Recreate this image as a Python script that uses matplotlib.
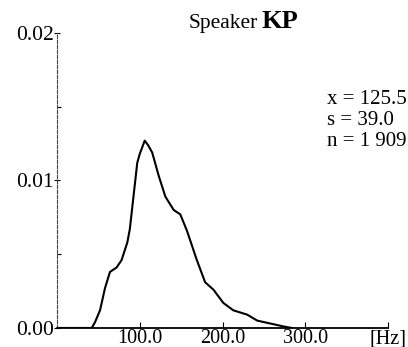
import matplotlib
matplotlib.use("Agg")
import matplotlib.pyplot as plt
from matplotlib.ticker import MultipleLocator

# pitch distribution
hz = [0, 20, 42, 46, 52, 58, 64, 72, 78, 85, 88, 91, 97, 100, 106, 110, 115,
      123, 131, 141, 149, 157, 163, 169, 179, 189, 201, 213, 230, 242, 258,
      274, 284]
density = [0, 0, 0, 0.0004, 0.0012, 0.0027, 0.0038, 0.0041, 0.0046, 0.0058,
           0.0067, 0.0082, 0.0112, 0.0118, 0.0127, 0.0124, 0.0119, 0.0103,
           0.0089, 0.0080, 0.0077, 0.0066, 0.0056, 0.0046, 0.0031, 0.0026,
           0.0017, 0.0012, 0.0009, 0.0005, 0.0003, 0.0001, 0]

x_ticks = [100, 200, 300, 400]
x_labels = ["100.0", "200.0", "300.0", "[Hz]"]
y_ticks = [0.0, 0.01, 0.02]
y_labels = ["0.00", "0.01", "0.02"]
stats = ["x = 125.5", "s = 39.0", "n = 1 909"]

plt.rcParams["font.family"] = ["Liberation Serif", "DejaVu Serif"]

fig = plt.figure(figsize=(4.08, 3.47), dpi=100)
ax = fig.add_axes([0.1397, 0.0548, 0.8113, 0.8502])

ax.plot(hz, density, color="black", lw=1.5, solid_joinstyle="round")
ax.set_xlim(0, 400)
ax.set_ylim(0, 0.02)

ax.spines["top"].set_visible(False)
ax.spines["right"].set_visible(False)
ax.spines["bottom"].set_linewidth(1.3)
ax.spines["left"].set_linewidth(0.8)
ax.spines["left"].set_linestyle((0, (3, 1.5)))
ax.spines["left"].set_color("#444444")

ax.set_xticks(x_ticks)
ax.set_xticklabels(x_labels)
ax.set_yticks(y_ticks)
ax.set_yticklabels(y_labels)
ax.yaxis.set_minor_locator(MultipleLocator(0.005))

ax.tick_params(axis="x", direction="in", length=4, width=0.8, pad=1,
               labelsize=14.5)
ax.tick_params(axis="y", which="major", direction="inout", length=5,
               width=0.8, pad=0, labelsize=15.5)
ax.tick_params(axis="y", which="minor", direction="in", length=3, width=0.8)

fig.text(258 / 408, 0.919, "Speaker", ha="right", va="baseline",
         fontsize=15.5)
fig.text(262 / 408, 0.919, "KP", ha="left", va="baseline",
         fontsize=19, fontweight="bold")

for i, s in enumerate(stats):
    ax.text(0.816, 0.776 - i * 0.072, s, transform=ax.transAxes,
            ha="left", va="center", fontsize=15)

fig.savefig("out.png", dpi=100)
